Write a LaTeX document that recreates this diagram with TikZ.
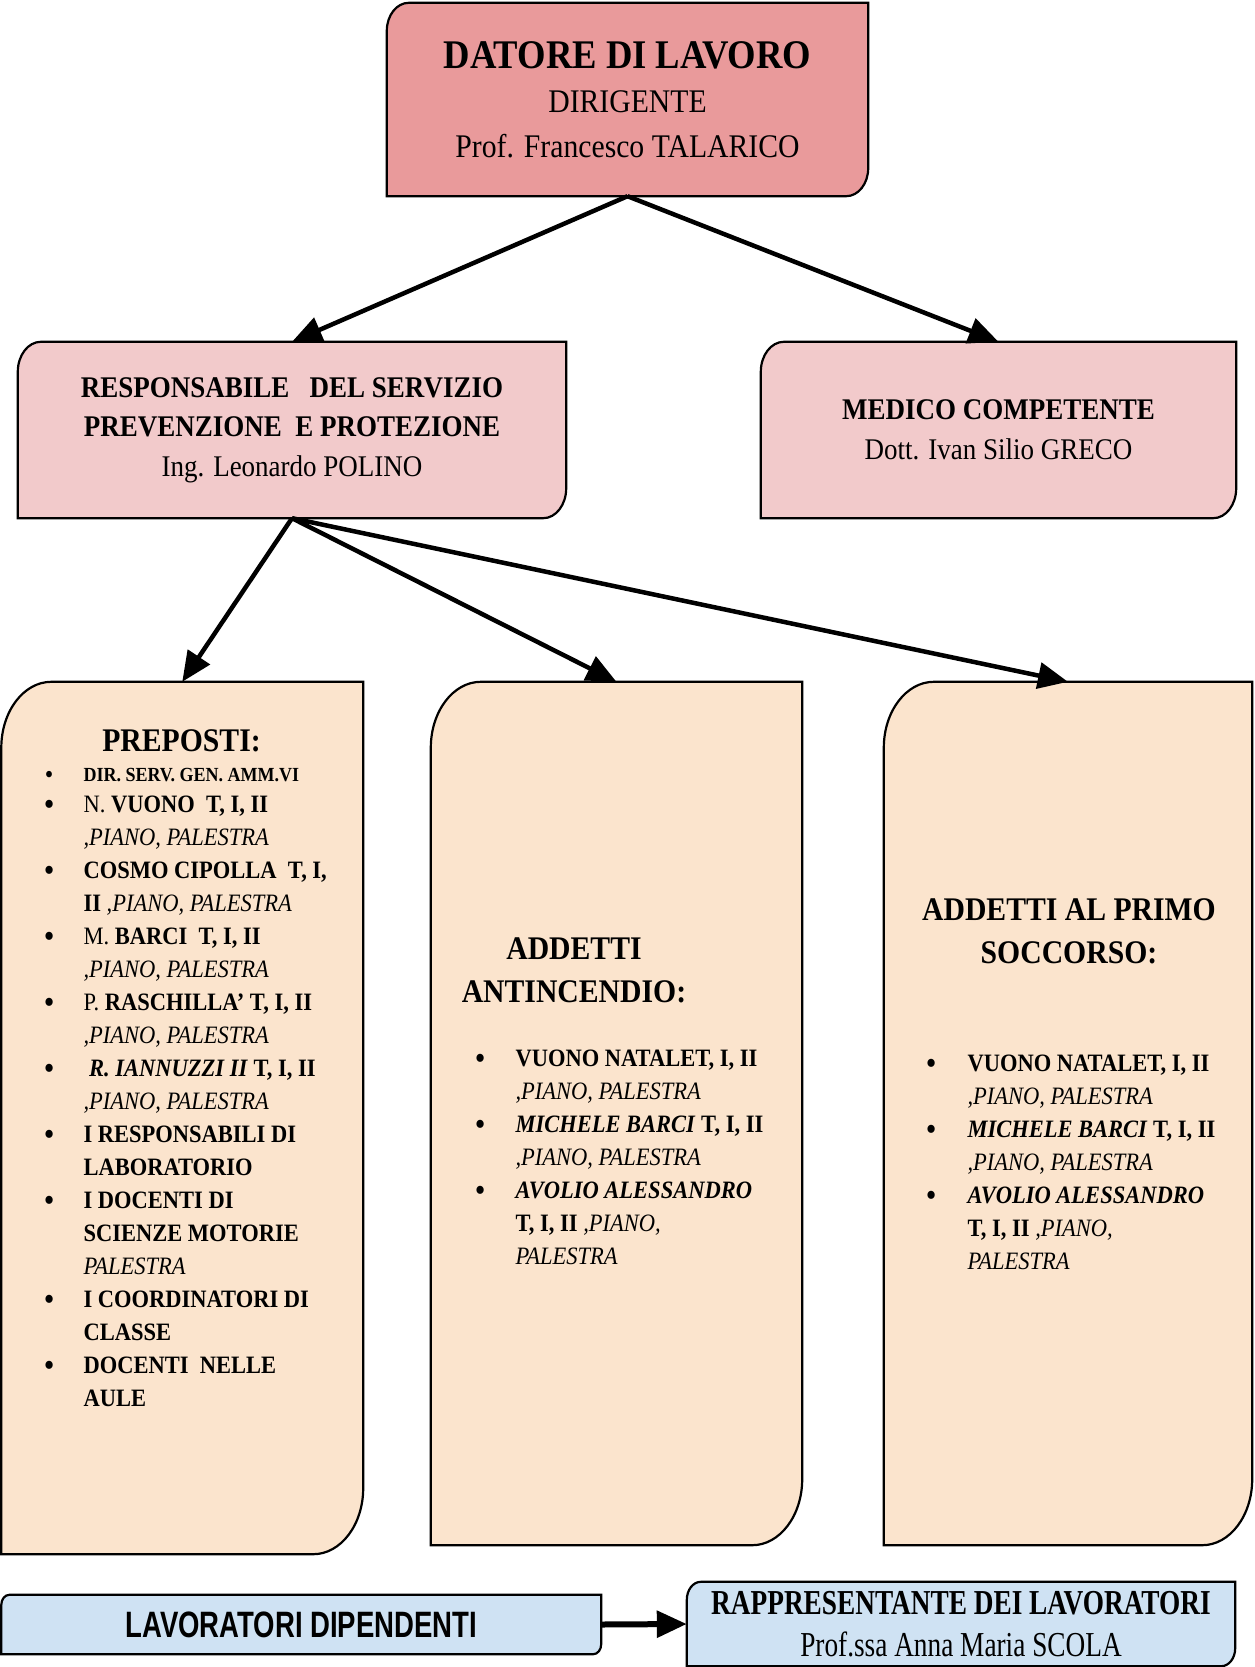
\documentclass[tikz,border=0pt]{standalone}
\usepackage{fontspec}
\setmainfont{Liberation Serif}[FakeStretch=0.9]
\newfontfamily\narrowserif{Liberation Serif}[FakeStretch=0.78]
\newfontfamily\narrowsans{Liberation Sans}[FakeStretch=0.75]
\usepackage{tikz}
\usetikzlibrary{arrows.meta, positioning, backgrounds, calc}
\definecolor{BossRose}{HTML}{E99A9B}
\definecolor{StaffPink}{HTML}{F2CACB}
\definecolor{TeamPeach}{HTML}{FBE4CD}
\definecolor{WorkBlue}{HTML}{CFE2F3}

% frame with rounded top-left and bottom-right corners: node, x radius, y radius, fill
\newcommand{\diagframe}[4]{%
  \path[draw=black, line width=2.2pt, fill=#4]
    (#1.south west) -- ([yshift=-#3]#1.north west)
    arc[start angle=180, end angle=90, x radius=#2, y radius=#3]
    -- (#1.north east) -- ([yshift=#3]#1.south east)
    arc[start angle=0, end angle=-90, x radius=#2, y radius=#3] -- cycle;}
\newcommand{\blt}{\raisebox{-0.1em}{\scalebox{1.35}{\textbullet}}}

\begin{document}
\begin{tikzpicture}[
  x=1pt, y=1pt,
  box/.style={inner sep=0pt, align=center},
  head/.style={inner sep=0pt, anchor=base, font=\fontsize{33}{43}\selectfont\bfseries},
  list/.style={inner sep=0pt, anchor=base west, font=\fontsize{25}{33}\selectfont},
  arr/.style={-{Triangle[length=30pt, width=26pt]}, line width=4.5pt}
]
\useasboundingbox (0,0) rectangle (1254,-1667);

% Nodes
\node[box, minimum width=481pt, minimum height=193pt, font=\fontsize{33}{41}\selectfont] (boss) at (627.5,-99.5)
  {{\fontsize{40.7}{46}\selectfont\bfseries DATORE DI LAVORO}\\[3pt] DIRIGENTE\\[4pt] Prof. Francesco TALARICO};

\node[box, minimum width=548pt, minimum height=176pt, font=\fontsize{30}{39.5}\selectfont] (rspp) at (292,-430)
  {\textbf{RESPONSABILE\ \ \ DEL SERVIZIO}\\ \textbf{PREVENZIONE\ \ E PROTEZIONE}\\ Ing. Leonardo POLINO};

\node[box, minimum width=475pt, minimum height=176pt, font=\fontsize{30}{40}\selectfont] (medico) at (998.5,-430)
  {\textbf{MEDICO COMPETENTE}\\ Dott. Ivan Silio GRECO};

\node[box, minimum width=361.5pt, minimum height=872pt] (prep) at (182.25,-1118) {};
\node[box, minimum width=371pt, minimum height=863pt] (fire) at (616.5,-1113.5) {};
\node[box, minimum width=368pt, minimum height=863pt] (aid) at (1068,-1113.5) {};

\node[box, minimum width=599.5pt, minimum height=59pt, font=\narrowsans\bfseries\fontsize{36.7}{40}\selectfont] (lav) at (301.25,-1624.5)
  {LAVORATORI DIPENDENTI};

\node[box, minimum width=548pt, minimum height=84pt, font=\narrowserif\fontsize{35}{42}\selectfont] (rapp) at (961,-1624)
  {\textbf{RAPPRESENTANTE DEI LAVORATORI}\\ Prof.ssa Anna Maria SCOLA};

% Frames
\begin{scope}[on background layer]
  \diagframe{boss}{22pt}{28pt}{BossRose}
  \diagframe{rspp}{23pt}{30pt}{StaffPink}
  \diagframe{medico}{23pt}{30pt}{StaffPink}
  \diagframe{prep}{50pt}{66pt}{TeamPeach}
  \diagframe{fire}{50pt}{66pt}{TeamPeach}
  \diagframe{aid}{50pt}{66pt}{TeamPeach}
  \diagframe{lav}{8pt}{10pt}{WorkBlue}
  \diagframe{rapp}{14pt}{18pt}{WorkBlue}
\end{scope}

% Lists
\node[head] (prephead) at (181.5,-751.7)
  {\begin{tabular}[t]{@{}c@{}}PREPOSTI:\end{tabular}};
\node[list] (preplist) at (43.7,-781.7) {\begin{tabular}[t]{@{}c@{\hspace{29pt}}l@{}}
  {\fontsize{20}{24}\selectfont\blt} & {\fontsize{20}{24}\selectfont\bfseries DIR. SERV. GEN. AMM.VI}\\[-2pt]
  \blt & N. \textbf{VUONO\ \ T, I, II}\\
       & \textit{,PIANO, PALESTRA}\\
  \blt & \textbf{COSMO CIPOLLA\ \ T, I,}\\
       & \textbf{II} \textit{,PIANO, PALESTRA}\\
  \blt & M. \textbf{BARCI\ \ T, I, II}\\
       & \textit{,PIANO, PALESTRA}\\
  \blt & P. \textbf{RASCHILLA’ T, I, II}\\
       & \textit{,PIANO, PALESTRA}\\
  \blt & \ \textbf{\textit{R. IANNUZZI II}} \textbf{T, I, II}\\
       & \textit{,PIANO, PALESTRA}\\
  \blt & \textbf{I RESPONSABILI DI}\\
       & \textbf{LABORATORIO}\\
  \blt & \textbf{I DOCENTI DI}\\
       & \textbf{SCIENZE MOTORIE}\\
       & \textit{PALESTRA}\\
  \blt & \textbf{I COORDINATORI DI}\\
       & \textbf{CLASSE}\\
  \blt & \textbf{DOCENTI\ \ NELLE}\\
       & \textbf{AULE}
\end{tabular}};

\node[head] (firehead) at (574,-959)
  {\begin{tabular}[t]{@{}c@{}}ADDETTI\\ ANTINCENDIO:\end{tabular}};
\node[list] (firelist) at (474.7,-1066.7) {\begin{tabular}[t]{@{}c@{\hspace{30pt}}l@{}}
  \blt & \textbf{VUONO NATALET, I, II}\\
       & \textit{,PIANO, PALESTRA}\\
  \blt & \textbf{\textit{MICHELE BARCI}} \textbf{T, I, II}\\
       & \textit{,PIANO, PALESTRA}\\
  \blt & \textbf{\textit{AVOLIO ALESSANDRO}}\\
       & \textbf{T, I, II} \textit{,PIANO,}\\
       & \textit{PALESTRA}
\end{tabular}};

\node[head] (aidhead) at (1069,-920)
  {\begin{tabular}[t]{@{}c@{}}ADDETTI AL PRIMO\\ SOCCORSO:\end{tabular}};
\node[list] (aidlist) at (925.7,-1071.7) {\begin{tabular}[t]{@{}c@{\hspace{31pt}}l@{}}
  \blt & \textbf{VUONO NATALET, I, II}\\
       & \textit{,PIANO, PALESTRA}\\
  \blt & \textbf{\textit{MICHELE BARCI}} \textbf{T, I, II}\\
       & \textit{,PIANO, PALESTRA}\\
  \blt & \textbf{\textit{AVOLIO ALESSANDRO}}\\
       & \textbf{T, I, II} \textit{,PIANO,}\\
       & \textit{PALESTRA}
\end{tabular}};

% Arrows
\draw[arr] (boss.south) -- (rspp.north);
\draw[arr] (boss.south) -- (medico.north);
\draw[arr] (rspp.south) -- (prep.north);
\draw[arr] (rspp.south) -- (fire.north);
\draw[arr] (rspp.south) -- (aid.north);
\draw[arr, line width=6pt] (lav.east) -- (rapp.west);

\end{tikzpicture}
\end{document}
